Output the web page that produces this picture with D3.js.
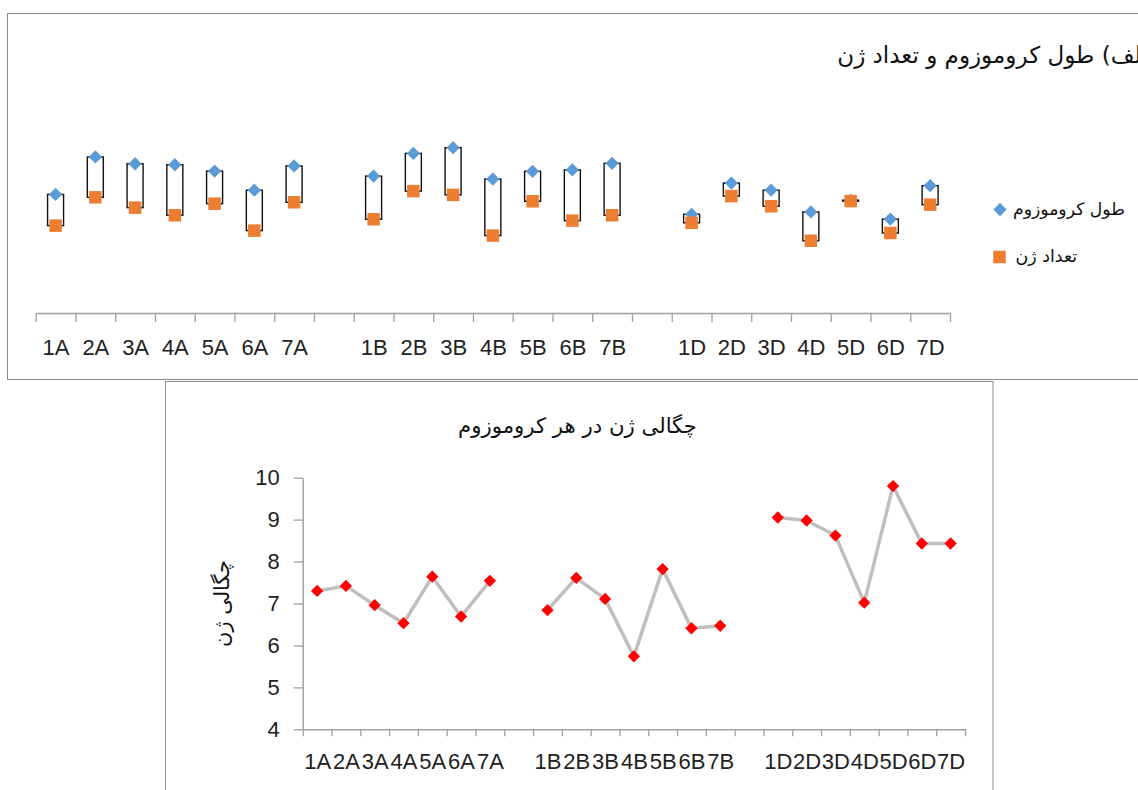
<!DOCTYPE html>
<html><head><meta charset="utf-8">
<script src="https://cdn.jsdelivr.net/npm/d3@7"></script>
<style>
html,body{margin:0;padding:0;background:#fff;}
svg{display:block;}
.lat{font-family:"Liberation Sans",Arial,sans-serif;fill:#222;}
.fa{font-family:"DejaVu Sans",sans-serif;fill:#111;}
</style></head>
<body>
<svg id="c" width="1138" height="790"></svg>
<script>
// ---- data ----
const chromosomes = ["1A","2A","3A","4A","5A","6A","7A","1B","2B","3B","4B","5B","6B","7B","1D","2D","3D","4D","5D","6D","7D"];
const chromLength = [596, 784, 750, 745, 713, 617, 739, 688, 802, 831, 673, 712, 719, 752, 496, 653, 617, 508, 567, 472, 640];
const geneCount   = [4380, 5800, 5280, 4900, 5480, 4130, 5550, 4700, 6110, 5920, 3880, 5600, 4630, 4900, 4520, 5860, 5350, 3620, 5610, 4010, 5430];
const geneDensity = [7.30, 7.42, 6.96, 6.53, 7.64, 6.69, 7.54, 6.84, 7.61, 7.11, 5.74, 7.82, 6.41, 6.47, 9.05, 8.98, 8.62, 7.02, 9.80, 8.43, 8.43];
const densityTicks = [4,5,6,7,8,9,10];
const titleTop = "الف) طول کروموزوم و تعداد ژن";
const seriesNames = ["طول کروموزوم","تعداد ژن"];
const titleBottom = "چگالی ژن در هر کروموزوم";
const yTitleBottom = "چگالی ژن";

const perGroup = 7, nSlots = 23;
const slotOf = i => i + Math.floor(i / perGroup);

const svg = d3.select("#c");
svg.append("rect").attr("width",1138).attr("height",790).attr("fill","#fff");

// fit helper: scale font so text width equals target
function fit(sel, target){
  const w = sel.node().getBBox().width;
  const fs = parseFloat(sel.attr("font-size"));
  sel.attr("font-size", fs * target / w);
}

// ================= TOP CHART =================
svg.append("rect").attr("x",7.5).attr("y",13.5).attr("width",1140).attr("height",366)
  .attr("fill","#fff").attr("stroke","#8c8c8c").attr("stroke-width",1);

const xT = d3.scaleLinear().domain([0,nSlots]).range([35.7,950]);
const yLen = d3.scaleLinear().domain([0,1000]).range([313,114]);
const yGene = d3.scaleLinear().domain([0,10000]).range([313,113.5]);

const tAxis = svg.append("g").attr("transform","translate(0,313)")
  .call(d3.axisBottom(xT).tickValues(d3.range(nSlots+1)).tickFormat("").tickSize(9).tickSizeOuter(0));
tAxis.select(".domain").attr("stroke","#a0a0a0").attr("stroke-width",1.5);
tAxis.selectAll(".tick line").attr("stroke","#a0a0a0").attr("stroke-width",1.3);

const tLab = svg.append("g").attr("transform","translate(0,313)")
  .call(d3.axisBottom(xT).tickValues(chromosomes.map((c,i)=>slotOf(i)+0.5))
    .tickFormat((d,i)=>chromosomes[i]).tickSize(0).tickPadding(26));
tLab.select(".domain").remove();
tLab.selectAll("text").attr("class","lat").attr("font-size",22).attr("fill","#222");

// up-down boxes
svg.append("g").selectAll("rect").data(chromosomes).join("rect")
  .attr("x",(d,i)=>xT(slotOf(i)+0.5)-8)
  .attr("y",(d,i)=>Math.min(yLen(chromLength[i]),yGene(geneCount[i])))
  .attr("width",16)
  .attr("height",(d,i)=>Math.abs(yLen(chromLength[i])-yGene(geneCount[i])))
  .attr("fill","#fff").attr("stroke","#111").attr("stroke-width",1.4);

const diamond = d3.symbol(d3.symbolSquare, 88);
const square = d3.symbol(d3.symbolSquare, 156);
svg.append("g").selectAll("path").data(chromosomes).join("path")
  .attr("d",diamond)
  .attr("transform",(d,i)=>`translate(${xT(slotOf(i)+0.5)},${yLen(chromLength[i])}) rotate(45)`)
  .attr("fill","#5B9BD5");
svg.append("g").selectAll("path").data(chromosomes).join("path")
  .attr("d",square)
  .attr("transform",(d,i)=>`translate(${xT(slotOf(i)+0.5)},${yGene(geneCount[i])})`)
  .attr("fill","#ED7D31");

// legend
svg.append("path").attr("d",diamond).attr("transform","translate(1000,209.5) rotate(45)").attr("fill","#5B9BD5");
svg.append("path").attr("d",square).attr("transform","translate(999.5,257)").attr("fill","#ED7D31");
const l1 = svg.append("text").attr("class","fa").attr("font-size",17).attr("x",1013).attr("y",210)
  .attr("text-anchor","start").attr("dominant-baseline","middle").text(seriesNames[0]);
fit(l1, 112);
const l2 = svg.append("text").attr("class","fa").attr("font-size",17).attr("x",1015.5).attr("y",257)
  .attr("text-anchor","start").attr("dominant-baseline","middle").text(seriesNames[1]);
fit(l2, 62);

// title (runs past the right edge as in the reference)
const tt = svg.append("text").attr("class","fa").attr("font-size",22).attr("x",1148).attr("y",56)
  .attr("text-anchor","end").attr("dominant-baseline","middle").text(titleTop);
fit(tt, 311);

// ================= BOTTOM CHART =================
svg.append("rect").attr("x",165.5).attr("y",381.5).attr("width",827.5).attr("height",420)
  .attr("fill","#fff").attr("stroke","#8c8c8c").attr("stroke-width",1);

const xB = d3.scaleLinear().domain([0,nSlots]).range([302.7,965]);
const yB = d3.scaleLinear().domain([4,10]).range([729.3,477.7]);

const bY = svg.append("g").attr("transform","translate(302.7,0)")
  .call(d3.axisLeft(yB).tickValues(densityTicks).tickFormat(d3.format("d")).tickSize(9).tickPadding(14).tickSizeOuter(0));
bY.select(".domain").attr("stroke","#a0a0a0").attr("stroke-width",1.5);
bY.selectAll(".tick line").attr("stroke","#a0a0a0").attr("stroke-width",1.3);
bY.selectAll("text").attr("class","lat").attr("font-size",22).attr("fill","#222");

const bX = svg.append("g").attr("transform","translate(0,729.3)")
  .call(d3.axisBottom(xB).tickValues(d3.range(nSlots+1)).tickFormat("").tickSize(7).tickSizeOuter(0));
bX.select(".domain").attr("stroke","#a0a0a0").attr("stroke-width",1.5);
bX.selectAll(".tick line").attr("stroke","#a0a0a0").attr("stroke-width",1.3);

const bL = svg.append("g").attr("transform","translate(0,729.3)")
  .call(d3.axisBottom(xB).tickValues(chromosomes.map((c,i)=>slotOf(i)+0.5))
    .tickFormat((d,i)=>chromosomes[i]).tickSize(0).tickPadding(24));
bL.select(".domain").remove();
bL.selectAll("text").attr("class","lat").attr("font-size",22).attr("fill","#222");

// line with gaps between genomes
const slots = d3.range(nSlots).map(s => null);
geneDensity.forEach((v,i)=>{ slots[slotOf(i)] = v; });
const line = d3.line().defined(d=>d!==null).x((d,s)=>xB(s+0.5)).y(d=>yB(d));
svg.append("path").datum(slots).attr("d",line).attr("fill","none")
  .attr("stroke","#BFBFBF").attr("stroke-width",3.5).attr("stroke-linejoin","round");

const redD = d3.symbol(d3.symbolSquare, 76);
svg.append("g").selectAll("path").data(geneDensity).join("path")
  .attr("d",redD)
  .attr("transform",(d,i)=>`translate(${xB(slotOf(i)+0.5)},${yB(d)}) rotate(45)`)
  .attr("fill","#FF0000");

const bt = svg.append("text").attr("class","fa").attr("font-size",20).attr("x",577.5).attr("y",427)
  .attr("text-anchor","middle").attr("dominant-baseline","middle").text(titleBottom);
fit(bt, 239);
const yt = svg.append("text").attr("class","fa").attr("font-size",20)
  .attr("transform","translate(223,603.5) rotate(-90)")
  .attr("text-anchor","middle").attr("dominant-baseline","middle").text(yTitleBottom);
fit(yt, 87);
</script>
</body></html>
